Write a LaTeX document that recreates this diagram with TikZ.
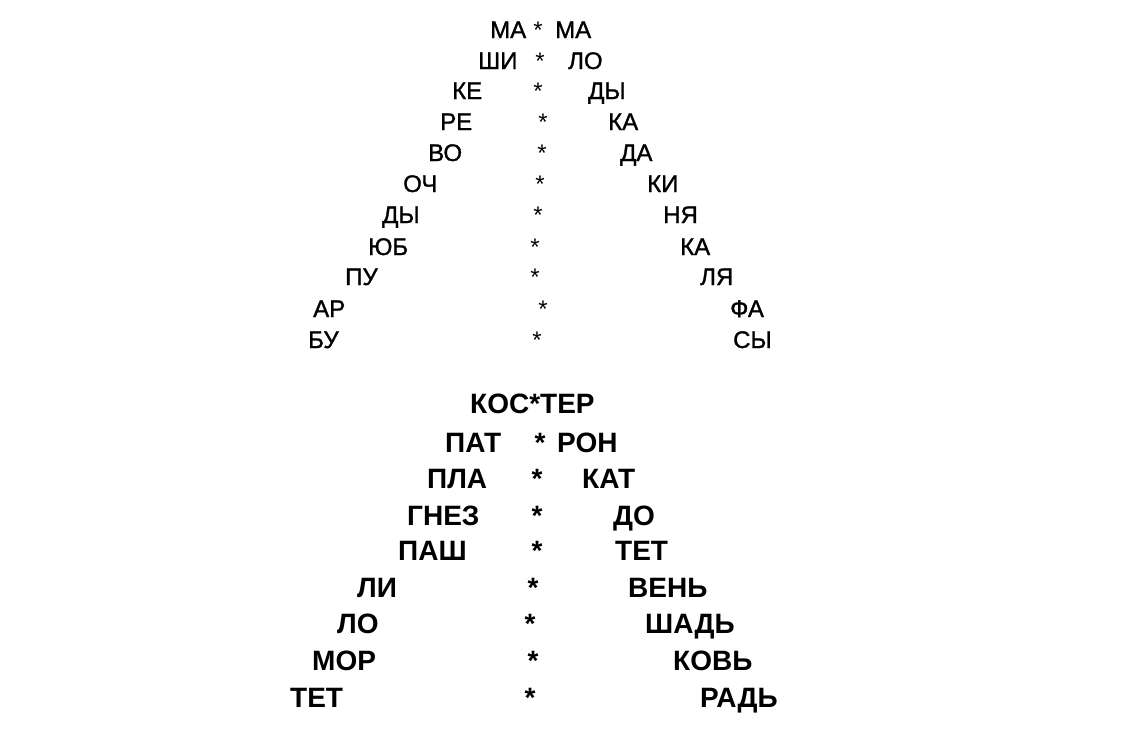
\documentclass[tikz,border=0pt]{standalone}
\usepackage{fontspec}
\setmainfont{Liberation Sans}
\newfontfamily\topfont{Liberation Sans}[FakeBold=1.2]
\begin{document}
\begin{tikzpicture}[x=1pt,y=-1pt,
  toptext/.style={inner sep=0pt,font=\topfont\fontsize{24}{24}\selectfont},
  topstar/.style={inner sep=0pt,font=\fontsize{24}{24}\selectfont},
  bottext/.style={inner sep=0pt,font=\fontsize{28}{28}\selectfont\bfseries},
  leftw/.style={anchor=base west},
  star/.style={anchor=base}]
\fill[white] (0,0) rectangle (1131,755);
\useasboundingbox (0,0) rectangle (1131,755);
\foreach \i/\l/\lx/\sx/\r/\rx/\b in {
  1/МА/490/538/МА/555/38,
  2/ШИ/478/540/ЛО/568/69,
  3/КЕ/452/538/ДЫ/588/99,
  4/РЕ/440/543/КА/608/130,
  5/ВО/428/542/ДА/620/161,
  6/ОЧ/403/540/КИ/647/192,
  7/ДЫ/382/538/НЯ/663/223,
  8/ЮБ/368/535/КА/680/255,
  9/ПУ/345/535/ЛЯ/700/285,
  10/АР/313/543/ФА/730/317,
  11/БУ/308/537/СЫ/733/348}{
  \node[toptext,leftw] (tl\i) at (\lx,\b) {\l};
  \node[topstar,star] (ts\i) at (\sx,\b) {*};
  \node[toptext,leftw] (tr\i) at (\rx,\b) {\r};
}
\node[bottext,leftw] (b1) at (470,413) {КОС*ТЕР};
\foreach \i/\l/\lx/\sx/\r/\rx/\b in {
  2/ПАТ/445/540/РОН/557/452,
  3/ПЛА/427/537/КАТ/582/488,
  4/ГНЕЗ/407/537/ДО/613/525,
  5/ПАШ/398/537/ТЕТ/615/560,
  6/ЛИ/357/533/ВЕНЬ/628/597,
  7/ЛО/337/530/ШАДЬ/645/633,
  8/МОР/312/533/КОВЬ/673/670,
  9/ТЕТ/290/530/РАДЬ/700/707}{
  \node[bottext,leftw] (bl\i) at (\lx,\b) {\l};
  \node[bottext,star] (bs\i) at (\sx,\b) {*};
  \node[bottext,leftw] (br\i) at (\rx,\b) {\r};
}
\end{tikzpicture}
\end{document}
